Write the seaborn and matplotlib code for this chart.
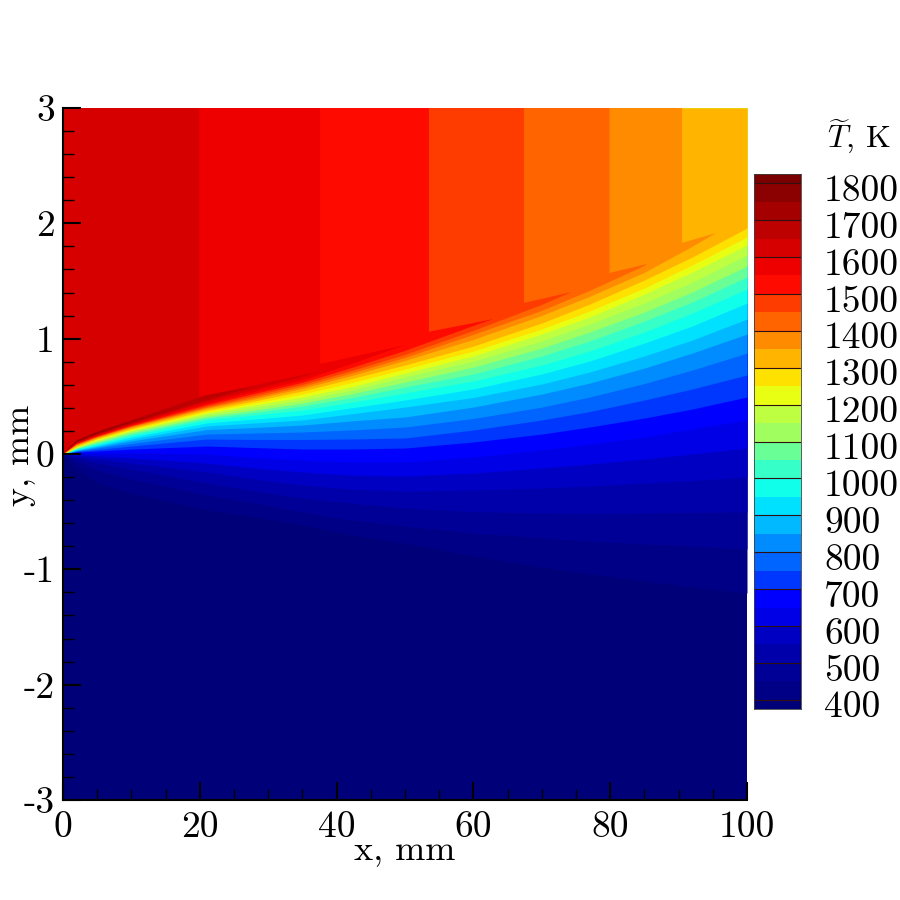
import numpy as np
import matplotlib
matplotlib.use("Agg")
import matplotlib.pyplot as plt
import seaborn as sns

sns.set_style("white")
plt.rcParams['font.family'] = ['cmr10', 'DejaVu Sans']
plt.rcParams['mathtext.fontset'] = 'cm'
plt.rcParams['axes.unicode_minus'] = False
plt.rcParams['axes.axisbelow'] = False

# x stations (mm) where the isotherms were read
stations = [2, 5, 10, 21, 28, 35, 42, 50, 60, 70, 77, 85, 92, 100]

# isotherm y (mm) on the cold side of the flame, per level
iso_400 = [-.121, -.251, -.338, -.486, -.546, -.616, -.702, -.772, -.884, -.980, -1.040, -1.101, -1.153, -1.205]
iso_450 = [-.061, -.139, -.217, -.355, -.425, -.503, -.572, -.624, -.685, -.728, -.754, -.780, -.798, -.824]
iso_500 = [-.035, -.078, -.130, -.251, -.321, -.381, -.425, -.468, -.499, -.512, -.516, -.512, -.507, -.503]
iso_550 = [-.017, -.043, -.078, -.156, -.217, -.269, -.303, -.321, -.312, -.295, -.277, -.251, -.230, -.199]
iso_600 = [-.004, -.017, -.035, -.078, -.121, -.156, -.182, -.191, -.165, -.121, -.087, -.043, 0, .052]
iso_650 = [.009, .009, .009, 0, -.030, -.052, -.069, -.069, -.026, .035, .087, .147, .217, .295]
iso_700 = [.017, .026, .043, .069, .056, .043, .043, .052, .104, .173, .234, .312, .390, .494]
iso_750 = [.022, .039, .069, .130, .126, .126, .130, .139, .208, .295, .368, .468, .564, .685]
iso_800 = [.026, .052, .091, .173, .182, .191, .208, .234, .308, .407, .494, .611, .728, .875]
iso_850 = [.030, .061, .113, .212, .230, .251, .286, .321, .407, .520, .615, .745, .875, 1.040]
iso_900 = [.035, .069, .130, .243, .269, .295, .347, .407, .490, .607, .711, .850, .988, 1.170]
iso_950 = [.039, .078, .147, .269, .303, .338, .399, .468, .564, .694, .806, .962, 1.110, 1.309]
iso_1000 = [.043, .087, .160, .295, .338, .381, .447, .529, .633, .772, .893, 1.058, 1.222, 1.431]
iso_1050 = [.048, .095, .173, .312, .360, .416, .486, .581, .694, .850, .980, 1.153, 1.318, 1.535]
iso_1100 = [.052, .104, .186, .325, .381, .442, .520, .624, .754, .919, 1.058, 1.231, 1.405, 1.630]
iso_1150 = [.056, .113, .195, .342, .403, .468, .551, .668, .806, .980, 1.127, 1.309, 1.491, 1.725]
iso_1200 = [.061, .121, .204, .355, .425, .494, .581, .702, .850, 1.040, 1.188, 1.387, 1.578, 1.812]
iso_1250 = [.065, .130, .212, .368, .442, .520, .616, .737, .893, 1.084, 1.240, 1.439, 1.639, 1.881]
iso_1300 = [.069, .134, .221, .381, .460, .546, .650, .772, .936, 1.136, 1.300, 1.509, 1.708, 1.959]
iso_1350 = [.074, .139, .225, .390, .473, .564, .672, .806, .988, 1.196, 1.361, 1.569, 1.795]
iso_1400 = [.078, .143, .234, .399, .486, .581, .694, .832, 1.032, 1.240, 1.413, 1.630]
iso_1450 = [.082, .147, .238, .407, .503, .598, .715, .858, 1.066, 1.292]
iso_1500 = [.087, .152, .243, .421, .520, .616, .741, .893, 1.110]
iso_1550 = [.091, .156, .251, .434, .538, .637, .776]
iso_1600 = [.095, .165, .256, .451, .559, .668]
iso_1650 = [.100, .169, .264, .468]
iso_1700 = [.104, .173, .273]
iso_1750 = [.108, .182]
iso_1800 = [.113]

# levels that reach the right edge
full_levels = [400, 450, 500, 550, 600, 650, 700, 750, 800, 850, 900, 950,
               1000, 1050, 1100, 1150, 1200, 1250, 1300]
full_iso = [iso_400, iso_450, iso_500, iso_550, iso_600, iso_650, iso_700,
            iso_750, iso_800, iso_850, iso_900, iso_950, iso_1000, iso_1050,
            iso_1100, iso_1150, iso_1200, iso_1250, iso_1300]

# levels with a vertical front in the hot stream and a tongue along the flame
front_levels = [1350, 1400, 1450, 1500, 1550, 1600]
front_iso = [iso_1350, iso_1400, iso_1450, iso_1500, iso_1550, iso_1600]
front_x = [90.5, 79.9, 67.4, 53.5, 37.6, 19.9]
front_y = [1.83, 1.57, 1.31, 1.06, 0.78, 0.495]
tip_x = [95.5, 85.4, 74.4, 62.9, 50.0, 37.8]
tip_y = [1.917, 1.648, 1.405, 1.17, 0.945, 0.72]

# thin slivers along the flame sheet near the leading edge
ridge_levels = [1650, 1700, 1750, 1800]
ridge_iso = [iso_1650, iso_1700, iso_1750, iso_1800]
ridge_top = [[0.12, 0.195, 0.295, 0.51], [0.115, 0.19, 0.285], [0.112, 0.186], [0.115]]
ridge_tip_x = [28, 16, 8, 3.5]
ridge_tip_y = [0.585, 0.39, 0.25, 0.155]

# colours of the bands, coldest first (375-400 K, 400-450 K, ...)
band_colors = ['#000078', '#000087', '#000096', '#0000aa', '#0000c3', '#0000e6',
               '#0000ff', '#0037ff', '#0064ff', '#008cff', '#00b9ff', '#00e1ff',
               '#0fffeb', '#37ffc8', '#69ff96', '#a0ff5f', '#beff41', '#e8ff14',
               '#ffe100', '#ffb400', '#ff8c00', '#ff6400', '#ff3c00', '#ff0a00',
               '#ee0000', '#d60000', '#bd0000', '#a50000', '#8b0000', '#7a0000']
all_levels = full_levels + front_levels + ridge_levels
palette = sns.color_palette(band_colors)
level_color = dict(zip(all_levels, palette[1:]))

bar_ticks = [1800, 1700, 1600, 1500, 1400, 1300, 1200, 1100, 1000, 900, 800, 700, 600, 500, 400]

fig = plt.figure(figsize=(9, 9), dpi=100)
ax = fig.add_axes([63 / 900, 100 / 900, 684 / 900, 692 / 900])

# paint from cold to hot, each level covers everything hotter than itself
ax.fill_between([0, 100], -3, 3, color=palette[0], lw=0)
x_full = [0] + stations
for level, iso in zip(full_levels, full_iso):
    ax.fill_between(x_full, [0] + iso, 3, color=level_color[level], lw=0)

for i, level in enumerate(front_levels):
    iso = front_iso[i]
    xs = [0, front_x[i], front_x[i], tip_x[i]] + stations[:len(iso)][::-1] + [0]
    ys = [3, 3, front_y[i], tip_y[i]] + iso[::-1] + [0]
    ax.fill(xs, ys, color=level_color[level], lw=0)

for i, level in enumerate(ridge_levels):
    iso = ridge_iso[i]
    n = len(iso)
    xs = [0] + stations[:n] + [ridge_tip_x[i]] + stations[:n][::-1]
    ys = [0] + ridge_top[i] + [ridge_tip_y[i]] + iso[::-1]
    ax.fill(xs, ys, color=level_color[level], lw=0)

ax.set_xlim(0, 100)
ax.set_ylim(-3, 3)
ax.set_xticks([0, 20, 40, 60, 80, 100])
ax.set_xticklabels(['0', '20', '40', '60', '80', '100'], fontsize=27)
ax.set_yticks([-3, -2, -1, 0, 1, 2, 3])
ax.set_yticklabels(['-3', '-2', '-1', '0', '1', '2', '3'], fontsize=27)
ax.set_xticks(np.arange(0, 101, 5), minor=True)
ax.set_yticks(np.arange(-3, 3.01, 0.2), minor=True)
ax.tick_params(which='major', direction='in', length=13, width=1.5, color='black',
               left=True, bottom=True, pad=6, labelcolor='black')
ax.tick_params(which='minor', direction='in', length=8, width=1, color='black',
               left=True, bottom=True)
ax.tick_params(axis='x', which='major', pad=8)
sns.despine(ax=ax, top=True, right=True)
for side in ['left', 'bottom']:
    ax.spines[side].set_linewidth(1.5)
    ax.spines[side].set_color('black')

fig.text(405 / 900, 1 - 851 / 900, 'x, mm', fontsize=26, ha='center', va='center', color='black')
fig.text(20 / 900, 1 - 455 / 900, 'y, mm', fontsize=26, ha='center', va='center',
         rotation=90, color='black')

# colour bar, one heatmap row per 25 K
cax = fig.add_axes([754 / 900, 191 / 900, 47 / 900, 535 / 900])
row_temps = np.arange(1812.5, 375, -25)
row_bands = np.searchsorted(all_levels, row_temps)
sns.heatmap(row_bands[:, None], ax=cax, cmap=palette, vmin=-0.5, vmax=29.5, cbar=False,
            xticklabels=False, yticklabels=False)
for t in bar_ticks:
    row = (1825 - t) / 25
    cax.axhline(row, color='#301010', lw=0.8)
    cax.annotate(str(t), (1, row), xycoords=('axes fraction', 'data'), xytext=(23, -8),
                 textcoords='offset pixels', fontsize=27, ha='left', va='center', color='black')
for spine in cax.spines.values():
    spine.set_visible(True)
    spine.set_linewidth(0.6)
    spine.set_color('#404040')

fig.text(827 / 900, 1 - 137 / 900, r'$\widetilde{T}$, K', fontsize=23, ha='left', va='center',
         color='black')

fig.savefig('out.png', dpi=100)
